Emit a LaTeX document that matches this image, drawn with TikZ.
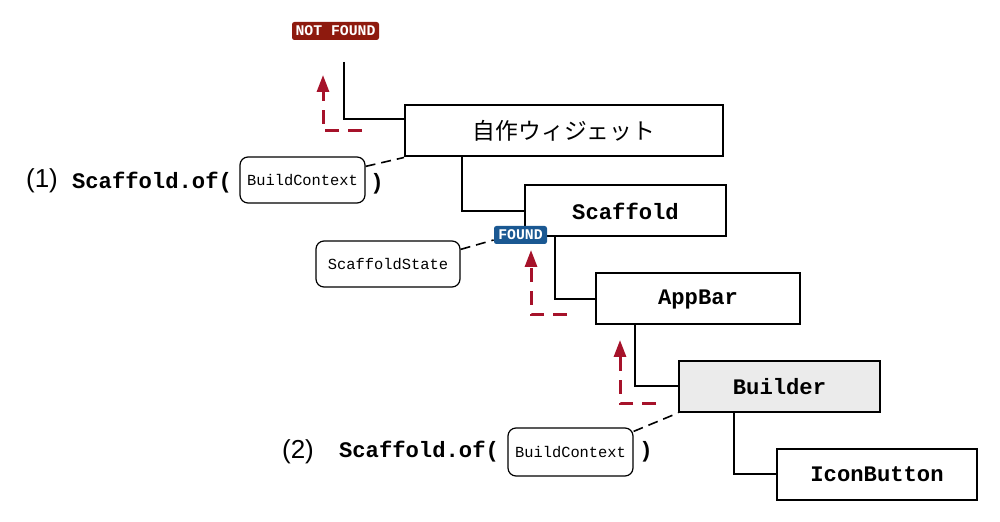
\documentclass[tikz,border=0pt]{standalone}
\usepackage{fontspec}
\setmainfont{Liberation Sans}
\setmonofont{Liberation Mono}
\newfontfamily\jpfont{Noto Sans CJK JP}
\usepackage{tikz}
\usetikzlibrary{arrows.meta,positioning,calc}
\definecolor{myred}{RGB}{166,18,42}
\definecolor{mybadgered}{RGB}{142,26,14}
\definecolor{mybadgeblue}{RGB}{26,88,146}
\definecolor{mygray}{RGB}{235,235,235}
\tikzstyle{widget}=[draw,line width=1pt,rectangle,minimum height=25.5pt,inner sep=0pt,font=\ttfamily\bfseries\fontsize{11.1}{13}\selectfont]
\tikzstyle{ctx}=[draw,line width=0.6pt,rounded corners=4pt,minimum height=23pt,inner sep=0pt,font=\ttfamily\fontsize{7.7}{9}\selectfont]
\begin{document}
\begin{tikzpicture}[
  x=0.5pt,y=-0.5pt,
  badge/.style={
    fill=#1,
    text=white,
    rounded corners=1.2pt,
    minimum height=9pt,
    inner sep=0pt,
    font=\ttfamily\bfseries\fontsize{7.4}{8}\selectfont
    },
  code/.style={inner sep=0pt,font=\ttfamily\bfseries\fontsize{11.1}{13}\selectfont},
  num/.style={inner sep=0pt,font=\fontsize{13}{15}\selectfont},
  tree/.style={line width=1pt},
  link/.style={line width=0.8pt,dash pattern=on 5pt off 3pt},
  search/.style={myred,line width=1.5pt,dash pattern=on 7pt off 4.5pt,-{Triangle[length=8.5pt,width=6pt]}}
]
\useasboundingbox (0,0) rectangle (1000,522);

% widget tree
\node [widget, minimum width=159pt] (selfw) at (564,131) {\jpfont\mdseries\fontsize{11.4}{13}\selectfont 自作ウィジェット};
\node [widget, minimum width=100.5pt] (scaffold) at (625.5,211) {Scaffold};
\node [widget, minimum width=102pt] (appbar) at (698,299) {AppBar};
\node [widget, minimum width=100.5pt, fill=mygray] (builder) at (779.5,386.5) {Builder};
\node [widget, minimum width=100pt] (iconbtn) at (877,474.5) {IconButton};

\coordinate (top) at (344,62);
\draw [tree] (top) |- ([yshift=6pt]selfw.west);
\draw [tree] ([xshift=29pt]selfw.south west) |- (scaffold.west);
\draw [tree] ([xshift=15.5pt]scaffold.south west) |- (appbar.west);
\draw [tree] ([xshift=20pt]appbar.south west) |- (builder.west);
\draw [tree] ([xshift=28pt]builder.south west) |- (iconbtn.west);

% badges
\node [badge=mybadgered, minimum width=43.5pt] (notfound) at (335.5,31) {NOT FOUND};
\node [badge=mybadgeblue, minimum width=26.5pt] (found) at (520.5,235) {FOUND};

% search paths
\coordinate (s1) at (362,131);
\coordinate (t1) at (323,75);
\coordinate (s2) at (567,315);
\coordinate (t2) at (531,250);
\coordinate (s3) at (656,404);
\coordinate (t3) at (620,340);
\draw [search] (s1) -| (t1);
\draw [search] (s2) -| (t2);
\draw [search] (s3) -| (t3);

% (1)
\node [num] (n1) at (42,181) {(1)};
\node [code] (of1) at (152,183) {Scaffold.of(};
\node [ctx, minimum width=62.5pt] (bc1) at (302.5,180) {BuildContext};
\node [code] (cl1) at (377,184) {)};
\draw [link] ([yshift=-5pt]bc1.north east) -- (selfw.south west);

% state
\node [ctx, minimum width=72pt] (state) at (388,264) {ScaffoldState};
\draw [link] ([yshift=-4.5pt]state.north east) -- ([yshift=-2.5pt]found.west);

% (2)
\node [num] (n2) at (298,452) {(2)};
\node [code] (of2) at (419,452) {Scaffold.of(};
\node [ctx, minimum width=62.5pt, minimum height=24pt] (bc2) at (570.5,452) {BuildContext};
\node [code] (cl2) at (646,452) {)};
\draw [link] ([yshift=-2pt]bc2.north east) -- (builder.south west);

\end{tikzpicture}
\end{document}
